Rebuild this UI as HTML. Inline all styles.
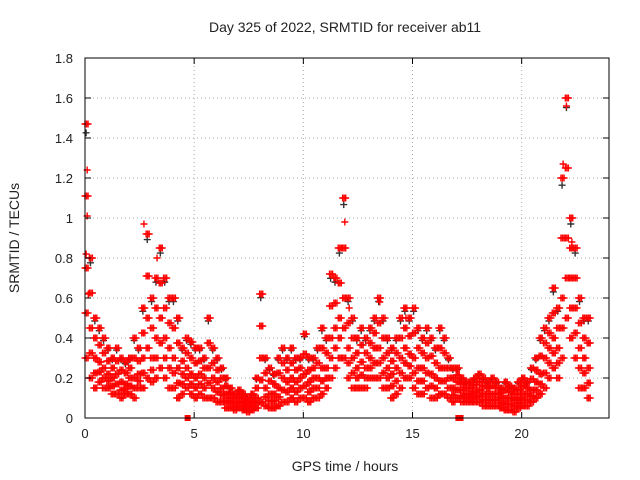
<!DOCTYPE html>
<html><head><meta charset="utf-8"><style>
body{margin:0;background:#fff}
svg{display:block;font-family:"Liberation Sans",sans-serif}
</style></head><body>
<svg id="chart" width="640" height="480">
<rect width="640" height="480" fill="#fff"/>
<g id="grid"></g>
<g id="pts"></g>
<g id="axes"></g>
<text x="345" y="32" font-size="14" text-anchor="middle" fill="#222">Day 325 of 2022, SRMTID for receiver ab11</text>
<text x="345" y="471" font-size="14" text-anchor="middle" fill="#222">GPS time / hours</text>
<text transform="translate(19,238) rotate(-90)" font-size="14" text-anchor="middle" fill="#222">SRMTID / TECUs</text>
</svg>
<script>
const times=[0,0.2,0.4,0.6,0.8,1,1.2,1.4,1.6,1.8,2,2.2,2.4,2.6,2.8,3,3.2,3.4,3.6,3.8,4,4.2,4.4,4.6,4.8,5,5.2,5.4,5.6,5.8,6,6.2,6.4,6.6,6.8,7,7.2,7.4,7.6,7.8,8,8.2,8.4,8.6,8.8,9,9.2,9.4,9.6,9.8,10,10.2,10.4,10.6,10.8,11,11.2,11.4,11.6,11.8,12,12.2,12.4,12.6,12.8,13,13.2,13.4,13.6,13.8,14,14.2,14.4,14.6,14.8,15,15.2,15.4,15.6,15.8,16,16.2,16.4,16.6,16.8,17,17.2,17.4,17.6,17.8,18,18.2,18.4,18.6,18.8,19,19.2,19.4,19.6,19.8,20,20.2,20.4,20.6,20.8,21,21.2,21.4,21.6,21.8,22,22.2,22.4,22.6,22.8,23];
const hiVals=[1.47,0.8,0.5,0.45,0.4,0.35,0.3,0.35,0.3,0.28,0.3,0.4,0.35,0.55,0.92,0.6,0.7,0.85,0.7,0.6,0.6,0.5,0.35,0.4,0.38,0.35,0.35,0.3,0.5,0.35,0.3,0.25,0.2,0.15,0.12,0.14,0.12,0.1,0.12,0.2,0.62,0.3,0.25,0.22,0.3,0.35,0.3,0.35,0.3,0.3,0.42,0.3,0.3,0.35,0.45,0.4,0.72,0.7,0.85,1.1,0.6,0.5,0.4,0.45,0.4,0.45,0.5,0.6,0.5,0.4,0.35,0.4,0.5,0.55,0.5,0.55,0.45,0.4,0.45,0.4,0.35,0.45,0.4,0.3,0.25,0.25,0.2,0.18,0.18,0.2,0.22,0.2,0.18,0.2,0.18,0.15,0.18,0.16,0.15,0.18,0.2,0.18,0.25,0.3,0.4,0.45,0.5,0.65,0.55,1.2,1.6,1.0,0.85,0.6,0.5,0.5];
const midVals=[0.75,0.45,0.3,0.28,0.25,0.22,0.2,0.22,0.18,0.17,0.2,0.2,0.22,0.3,0.5,0.3,0.4,0.5,0.4,0.35,0.3,0.25,0.22,0.25,0.22,0.2,0.22,0.2,0.25,0.2,0.18,0.15,0.12,0.1,0.08,0.1,0.08,0.07,0.08,0.1,0.3,0.15,0.12,0.12,0.15,0.2,0.18,0.2,0.18,0.2,0.22,0.18,0.2,0.2,0.25,0.25,0.4,0.45,0.5,0.6,0.35,0.3,0.25,0.28,0.25,0.3,0.35,0.35,0.3,0.25,0.22,0.25,0.3,0.35,0.32,0.3,0.25,0.25,0.3,0.22,0.2,0.25,0.25,0.2,0.15,0.18,0.14,0.12,0.12,0.13,0.14,0.12,0.12,0.12,0.12,0.1,0.1,0.1,0.09,0.1,0.12,0.12,0.14,0.18,0.22,0.3,0.35,0.4,0.35,0.6,0.9,0.7,0.55,0.35,0.3,0.25];
const loVals=[0.3,0.2,0.15,0.18,0.15,0.15,0.12,0.12,0.1,0.12,0.12,0.1,0.15,0.15,0.2,0.18,0.2,0.25,0.2,0.15,0.15,0.1,0.12,0.15,0.12,0.1,0.12,0.1,0.1,0.1,0.08,0.08,0.05,0.05,0.04,0.05,0.04,0.03,0.04,0.05,0.08,0.06,0.05,0.05,0.06,0.08,0.08,0.1,0.08,0.1,0.1,0.08,0.1,0.1,0.12,0.15,0.2,0.25,0.3,0.3,0.2,0.15,0.15,0.15,0.15,0.2,0.2,0.2,0.15,0.15,0.1,0.12,0.15,0.2,0.2,0.15,0.12,0.12,0.15,0.1,0.1,0.12,0.12,0.1,0.08,0.1,0.08,0.08,0.08,0.08,0.08,0.06,0.06,0.06,0.06,0.05,0.04,0.04,0.03,0.05,0.06,0.06,0.08,0.1,0.12,0.15,0.2,0.25,0.2,0.3,0.5,0.4,0.3,0.15,0.15,0.1];
const extraTimes=[0.1,0.1,0.15,2.7,3.3,11.9,12.1,21.9,22.05,22.3,0.05,13.5,14.7];
const extraVals=[1.24,1.01,0.62,0.97,0.8,0.98,0.55,1.27,1.56,0.88,0.82,0.58,0.5];
const zeroTimes=[4.7,17.1,17.2];
const zeroVals=[0,0,0];
const xTicks=[0,5,10,15,20];
const yTicks=[0,0.2,0.4,0.6,0.8,1,1.2,1.4,1.6,1.8];
const yTickLabels=["0","0.2","0.4","0.6","0.8","1","1.2","1.4","1.6","1.8"];

const L=85,R=609,T=58,B=418,XMAX=24,YMAX=1.8;
const X=v=>L+v/XMAX*(R-L), Y=v=>B-v/YMAX*(B-T);
const NS="http://www.w3.org/2000/svg";
function mk(tag,attrs,parent){const e=document.createElementNS(NS,tag);for(const k in attrs)e.setAttribute(k,attrs[k]);parent.appendChild(e);return e;}
const grid=document.getElementById('grid'),axes=document.getElementById('axes'),pts=document.getElementById('pts');
xTicks.forEach(t=>{
  const g=mk('line',{x1:X(t),x2:X(t),y1:T,y2:B,stroke:'#aaa','stroke-dasharray':'1,3'},grid);
  
  
  mk('line',{x1:X(t),x2:X(t),y1:B,y2:B-6,stroke:'#000'},axes);
  mk('line',{x1:X(t),x2:X(t),y1:T,y2:T+6,stroke:'#000'},axes);
  const tx=mk('text',{x:X(t),y:B+20,'font-size':13,'text-anchor':'middle',fill:'#222'},axes);
  tx.textContent=t;
  
  
});
yTicks.forEach((t,i)=>{
  const g=mk('line',{x1:L,x2:R,y1:Y(t),y2:Y(t),stroke:'#aaa','stroke-dasharray':'1,3'},grid);
  
  
  mk('line',{x1:L,x2:L+6,y1:Y(t),y2:Y(t),stroke:'#000'},axes);
  mk('line',{x1:R,x2:R-6,y1:Y(t),y2:Y(t),stroke:'#000'},axes);
  const tx=mk('text',{x:L-12,y:Y(t)+5,'font-size':13,'text-anchor':'end',fill:'#222'},axes);
  tx.textContent=yTickLabels[i];
  
  
});
const frame=mk('rect',{x:L,y:T,width:R-L,height:B-T,fill:'none',stroke:'#000','stroke-width':1},axes);


function plus(t,v,color){
  const x=X(t),y=Y(v);
  const p=mk('path',{d:`M${x-3.5} ${y}H${x+3.5}M${x} ${y-3.5}V${y+3.5}`,stroke:color,'stroke-width':1.4,fill:'none'},pts);
  
  
}
times.forEach((t,i)=>plus(t+0.05,hiVals[i]*0.97,'#333'));
times.forEach((t,i)=>{
  const h=hiVals[i],m=midVals[i],l=loVals[i];
  const steps=[0,0.07,0.14];
  steps.forEach((dt,k)=>{
    const fr=[0,0.25,0.5,0.75,1];
    fr.forEach((f,j)=>{
      const a=(j+k)%2?f:1-f;
      const v=a<0.5? l+(m-l)*a*2 : m+(h-m)*(a-0.5)*2;
      plus(t+dt,v,'#f00');
    });
  });
});
extraTimes.forEach((t,i)=>plus(t,extraVals[i],'#f00'));
zeroTimes.forEach((t,i)=>{
  const r=mk('rect',{x:X(t)-3,y:Y(zeroVals[i])-3,width:6,height:6,fill:'#f00'},pts);
  
  
});
</script>
</body></html>
